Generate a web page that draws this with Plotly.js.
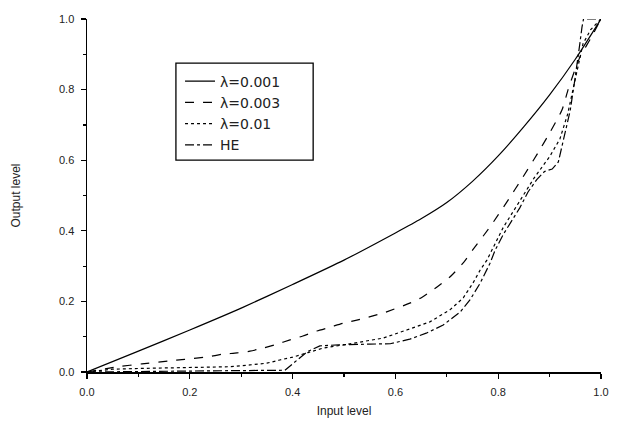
<!DOCTYPE html>
<html>
<head>
<meta charset="utf-8">
<script src="https://cdn.plot.ly/plotly-3.0.1.min.js"></script>
<style>html,body{margin:0;padding:0;background:#fff;}#chart{width:623px;height:424px;}</style>
</head>
<body>
<div id="chart"></div>
<script>
// λ=0.001 (solid)
const x1 = [0, 0.1, 0.2, 0.3, 0.4, 0.5, 0.6, 0.65, 0.7, 0.75, 0.8, 0.85, 0.9, 0.95, 1.0];
const y1 = [0, 0.059, 0.119, 0.181, 0.248, 0.317, 0.394, 0.434, 0.480, 0.540, 0.612, 0.695, 0.785, 0.886, 1.0];
// λ=0.003 (dashed)
const x2 = [0, 0.06, 0.107, 0.158, 0.19, 0.236, 0.262, 0.292, 0.317, 0.343, 0.37, 0.395, 0.42, 0.447, 0.473, 0.498, 0.525, 0.576, 0.628, 0.652, 0.681, 0.706, 0.732, 0.75, 0.784, 0.817, 0.848, 0.877, 0.9, 0.924, 0.936, 0.949, 0.96, 0.98, 1.0];
const y2 = [0, 0.015, 0.023, 0.031, 0.036, 0.043, 0.05, 0.054, 0.059, 0.068, 0.079, 0.091, 0.102, 0.116, 0.127, 0.138, 0.147, 0.167, 0.195, 0.212, 0.241, 0.269, 0.309, 0.345, 0.411, 0.482, 0.552, 0.62, 0.677, 0.742, 0.8, 0.855, 0.895, 0.945, 1.0];
// λ=0.01 (dotted)
const x3 = [0, 0.05, 0.1, 0.2, 0.28, 0.317, 0.35, 0.375, 0.4, 0.43, 0.46, 0.5, 0.53, 0.576, 0.622, 0.667, 0.706, 0.732, 0.751, 0.765, 0.778, 0.788, 0.81, 0.84, 0.87, 0.9, 0.92, 0.935, 0.945, 0.955, 0.965, 0.98, 1.0];
const y3 = [0, 0.008, 0.01, 0.012, 0.015, 0.02, 0.025, 0.034, 0.042, 0.055, 0.068, 0.077, 0.085, 0.096, 0.119, 0.142, 0.176, 0.21, 0.252, 0.289, 0.317, 0.345, 0.41, 0.48, 0.55, 0.61, 0.66, 0.73, 0.8, 0.87, 0.93, 0.97, 1.0];
// HE (dash-dot)
const x4 = [0, 0.1, 0.2, 0.3, 0.385, 0.405, 0.428, 0.453, 0.49, 0.55, 0.59, 0.628, 0.66, 0.693, 0.726, 0.745, 0.765, 0.784, 0.794, 0.81, 0.842, 0.858, 0.875, 0.89, 0.905, 0.917, 0.926, 0.934, 0.94, 0.949, 0.955, 0.959, 0.963, 0.966, 1.0];
const y4 = [0, 0.002, 0.003, 0.004, 0.005, 0.028, 0.057, 0.074, 0.077, 0.079, 0.08, 0.093, 0.11, 0.133, 0.17, 0.204, 0.252, 0.308, 0.345, 0.39, 0.465, 0.51, 0.545, 0.568, 0.575, 0.595, 0.649, 0.7, 0.74, 0.827, 0.884, 0.932, 0.977, 1.0, 1.0];

const names = ["λ=0.001", "λ=0.003", "λ=0.01", "HE"];
const xs = [x1, x2, x3, x4];
const ys = [y1, y2, y3, y4];
const dashes = ["solid", "dash", "dot", "dashdot"];
const shapes = ["spline", "spline", "linear", "linear"];

const traces = xs.map((x, i) => ({
  x: x, y: ys[i], name: names[i], type: "scatter", mode: "lines",
  line: {color: "#000", width: 1.2, dash: dashes[i], shape: shapes[i], smoothing: 0.6}
}));

const ff = "Liberation Sans, Arial, sans-serif";
const font = {family: ff, size: 11, color: "#222"};
const axisCommon = {
  range: [0, 1], showgrid: false, zeroline: false, showline: true,
  linecolor: "#000", linewidth: 1.5, ticks: "outside", ticklen: 5, tickwidth: 1.2,
  tickcolor: "#000", dtick: 0.2, tick0: 0, tickformat: ".1f", tickfont: font,
  ticklabelstandoff: 4,
  minor: {dtick: 0.1, ticks: "outside", ticklen: 3, tickwidth: 1.2, tickcolor: "#000"}
};

const layout = {
  width: 623, height: 424,
  margin: {l: 87, r: 22, t: 19, b: 52},
  paper_bgcolor: "#fff", plot_bgcolor: "#fff",
  showlegend: true,
  shapes: [{
    type: "rect", xref: "paper", yref: "paper",
    x0: 0.173, x1: 0.44, y0: 0.6, y1: 0.875,
    line: {color: "#000", width: 1.3}, fillcolor: "#fff", layer: "above"
  }],
  legend: {
    x: 0.181, y: 0.868, xanchor: "left", yanchor: "top",
    bgcolor: "rgba(0,0,0,0)", borderwidth: 0,
    font: {family: "DejaVu Sans, sans-serif", size: 14, color: "#222"},
    tracegroupgap: 0
  },
  xaxis: Object.assign({}, axisCommon, {
    title: {text: "Input level", font: {family: ff, size: 12, color: "#222"}, standoff: 10}
  }),
  yaxis: Object.assign({}, axisCommon, {
    title: {text: "Output level", font: {family: ff, size: 12, color: "#222"}, standoff: 36}
  })
};

Plotly.newPlot("chart", traces, layout, {displayModeBar: false, staticPlot: true});
</script>
</body>
</html>
